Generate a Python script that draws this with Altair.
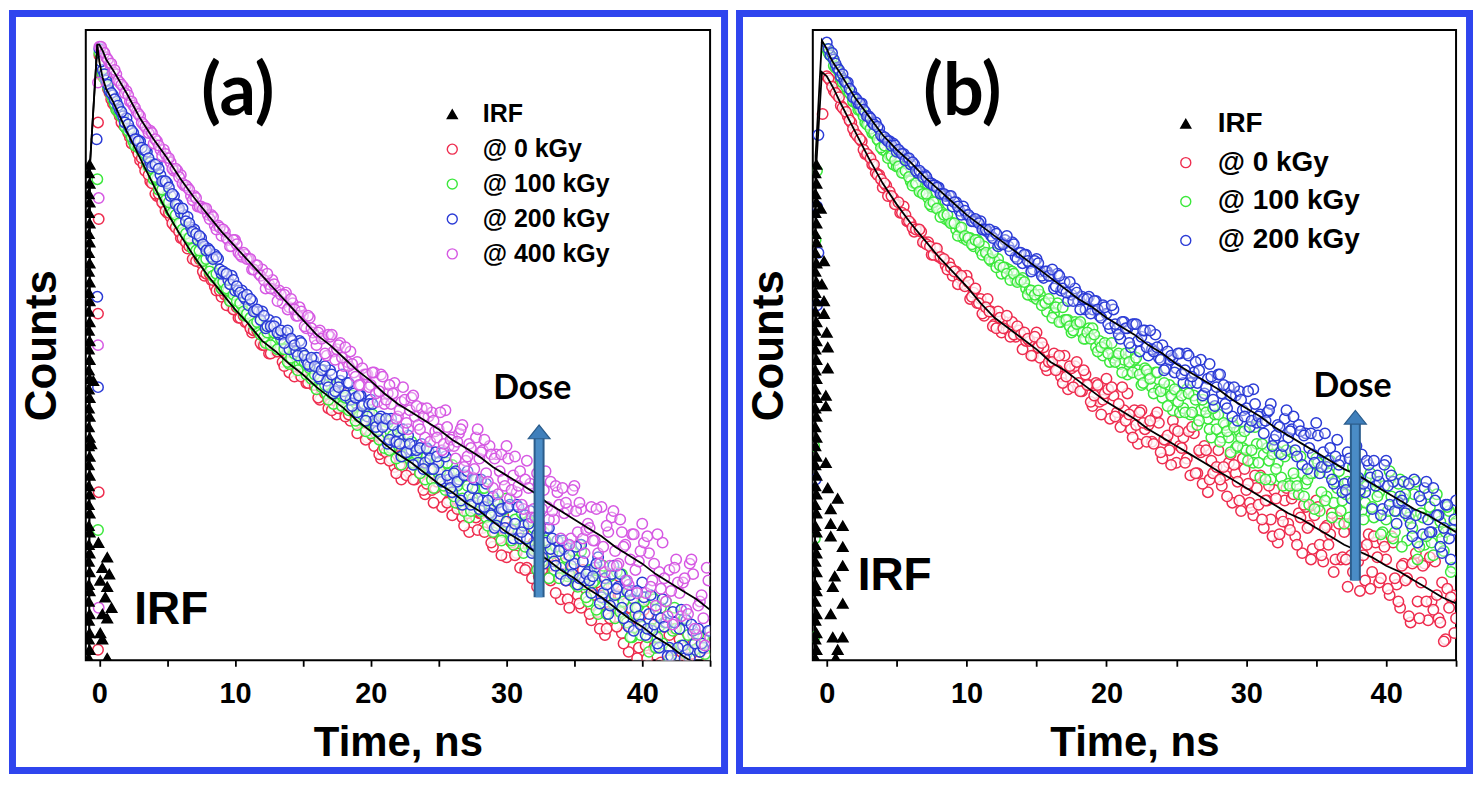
import altair as alt
import pandas as pd

STEP = 0.25  # ns between plotted channels; pass A starts at 0 ns, pass B at 0.125 ns

SERIES_A = ["IRF", "@ 0 kGy", "@ 100 kGy", "@ 200 kGy", "@ 400 kGy"]
SERIES_B = ["IRF", "@ 0 kGy", "@ 100 kGy", "@ 200 kGy"]
STROKES = {"IRF": "#000000", "@ 0 kGy": "#ee2d4f", "@ 100 kGy": "#3be83b",
           "@ 200 kGy": "#2b3bd6", "@ 400 kGy": "#d659e3"}

# ================= panel (a): log10(counts) =================
a_0 = [3.88,3.78,3.75,3.70, 3.65,3.62,3.59,3.55, 3.53,3.49,3.46,3.43, 3.38,3.36,3.35,3.28,
       3.27,3.21,3.20,3.17, 3.13,3.11,3.07,3.07, 3.01,3.00,2.96,2.97, 2.91,2.90,2.89,2.83,
       2.85,2.81,2.78,2.79, 2.73,2.74,2.73,2.68, 2.67,2.63,2.67,2.61, 2.60,2.56,2.57,2.56,
       2.50,2.52,2.46,2.51, 2.47,2.48,2.42,2.47, 2.37,2.43,2.39,2.36, 2.41,2.32,2.34,2.31,
       2.33,2.24,2.34,2.27, 2.22,2.28,2.17,2.23, 2.19,2.24,2.14,2.20, 2.08,2.13,2.13,2.06,
       2.14,2.02,2.07,1.96, 2.01,2.04,1.96,1.92, 2.02,1.86,1.96,1.98, 1.90,1.86,1.93,1.89,
       1.79,1.90,1.81,1.82, 1.91,1.73,1.83,1.76, 1.69,1.77,1.84,1.68, 1.75,1.61,1.77,1.68,
       1.70,1.63,1.73,1.70, 1.54,1.62,1.58,1.69, 1.49,1.57,1.60,1.51, 1.44,1.62,1.44,1.53,
       1.56,1.35,1.49,1.44, 1.53,1.38,1.41,1.47, 1.29,1.42,1.29,1.48, 1.37,1.31,1.25,1.37,
       1.42,1.19,1.31,1.23, 1.35,1.12,1.23,1.30, 1.20,1.31,1.13,1.22, 1.04,1.24,1.16,1.06,
       1.28,1.07,0.98,1.15, 1.11,0.93,1.19,0.99, 1.12,0.86,1.00,1.10, 0.96,1.02,0.87,1.08,
       0.90,1.04,0.85,1.04, 0.84]
a_0b = [3.83,3.77,3.72,3.67, 3.64,3.61,3.56,3.54, 3.51,3.46,3.45,3.41, 3.39,3.33,3.31,3.27,
        3.22,3.22,3.18,3.14, 3.13,3.08,3.06,3.04, 3.01,2.99,2.97,2.91, 2.90,2.91,2.85,2.84,
        2.84,2.81,2.76,2.76, 2.76,2.69,2.71,2.67, 2.68,2.63,2.64,2.61, 2.58,2.57,2.57,2.51,
        2.50,2.51,2.46,2.52, 2.47,2.49,2.40,2.44, 2.42,2.35,2.41,2.35, 2.38,2.32,2.36,2.31,
        2.25,2.29,2.27,2.20, 2.19,2.26,2.20,2.27, 2.16,2.17,2.20,2.16, 2.18,2.14,2.05,2.16,
        2.07,2.08,1.98,2.00, 1.99,1.95,2.02,1.89, 1.93,1.98,1.88,1.99, 1.86,1.96,1.89,1.81,
        1.84,1.89,1.75,1.85, 1.86,1.88,1.75,1.80, 1.86,1.72,1.74,1.64, 1.70,1.75,1.71,1.62,
        1.70,1.61,1.74,1.56, 1.61,1.63,1.50,1.66, 1.63,1.56,1.50,1.63, 1.64,1.43,1.54,1.39,
        1.53,1.40,1.43,1.46, 1.39,1.45,1.32,1.50, 1.46,1.38,1.25,1.44, 1.39,1.27,1.43,1.30,
        1.22,1.31,1.37,1.15, 1.31,1.15,1.20,1.36, 1.16,1.31,1.08,1.20, 1.25,1.15,1.01,1.21,
        1.24,1.01,1.14,1.06, 1.21,0.99,1.16,1.00, 0.98,1.15,0.91,1.04, 0.82,0.99,1.03,0.82,
        1.06,0.96,0.86,1.01]
a_100 = [3.89,3.79,3.76,3.71, 3.67,3.62,3.60,3.58, 3.53,3.51,3.47,3.45, 3.44,3.42,3.37,3.35,
         3.29,3.29,3.25,3.21, 3.20,3.14,3.13,3.09, 3.08,3.04,3.04,3.00, 2.96,2.96,2.91,2.91,
         2.87,2.87,2.82,2.83, 2.77,2.77,2.76,2.71, 2.74,2.68,2.69,2.64, 2.64,2.64,2.59,2.57,
         2.60,2.51,2.56,2.56, 2.51,2.48,2.51,2.48, 2.41,2.47,2.42,2.41, 2.45,2.36,2.39,2.35,
         2.29,2.34,2.38,2.27, 2.31,2.22,2.31,2.24, 2.25,2.20,2.26,2.24, 2.12,2.17,2.14,2.20,
         2.08,2.13,2.14,2.07, 2.01,2.13,2.01,2.06, 2.07,1.93,2.02,1.98, 2.04,1.93,1.95,1.99,
         1.86,1.95,1.86,1.97, 1.89,1.85,1.81,1.89, 1.93,1.75,1.84,1.77, 1.86,1.68,1.77,1.82,
         1.74,1.82,1.68,1.74, 1.61,1.76,1.69,1.61, 1.77,1.61,1.55,1.67, 1.64,1.51,1.68,1.53,
         1.63,1.43,1.54,1.61, 1.51,1.55,1.43,1.57, 1.44,1.54,1.40,1.54, 1.48,1.35,1.52,1.36,
         1.28,1.43,1.38,1.22, 1.43,1.29,1.34,1.41, 1.20,1.27,1.41,1.19, 1.32,1.11,1.22,1.26,
         1.16,1.30,1.04,1.30, 1.06,1.16,1.08,1.28, 1.00,1.14,1.15,0.91, 1.19,1.03,0.97,1.12,
         0.88,1.06,1.11,0.94, 0.97]
a_100b = [3.85,3.77,3.73,3.69, 3.65,3.62,3.59,3.54, 3.52,3.49,3.45,3.44, 3.42,3.41,3.35,3.34,
          3.30,3.24,3.24,3.19, 3.18,3.13,3.12,3.08, 3.05,3.03,3.01,2.96, 2.95,2.95,2.90,2.91,
          2.85,2.83,2.84,2.80, 2.80,2.77,2.71,2.74, 2.71,2.70,2.66,2.65, 2.63,2.60,2.61,2.55,
          2.54,2.56,2.50,2.56, 2.48,2.53,2.48,2.42, 2.44,2.46,2.38,2.43, 2.42,2.42,2.34,2.36,
          2.39,2.30,2.31,2.24, 2.27,2.30,2.27,2.21, 2.25,2.19,2.26,2.14, 2.16,2.17,2.09,2.18,
          2.17,2.11,2.05,2.14, 2.14,2.00,2.07,1.96, 2.06,1.97,1.98,1.99, 1.94,1.98,1.89,2.01,
          1.97,1.91,1.82,1.94, 1.90,1.83,1.94,1.84, 1.78,1.83,1.88,1.71, 1.83,1.71,1.75,1.86,
          1.71,1.82,1.64,1.73, 1.76,1.68,1.57,1.72, 1.73,1.57,1.67,1.61, 1.70,1.54,1.66,1.54,
          1.53,1.65,1.47,1.57, 1.39,1.51,1.54,1.39, 1.56,1.49,1.41,1.52, 1.36,1.55,1.39,1.30,
          1.43,1.37,1.24,1.43, 1.45,1.22,1.40,1.27, 1.42,1.23,1.28,1.18, 1.11,1.29,1.25,1.12,
          1.28,1.11,1.15,1.29, 1.11,1.25,1.18,0.98, 1.05,1.25,0.95,1.07, 1.20,1.12,0.93,1.05,
          1.12,0.84,1.03,0.89]
a_200 = [3.91,3.81,3.76,3.71, 3.69,3.66,3.62,3.59, 3.58,3.53,3.51,3.48, 3.47,3.43,3.42,3.37,
         3.36,3.36,3.31,3.28, 3.27,3.21,3.21,3.17, 3.13,3.12,3.11,3.06, 3.05,3.00,3.01,2.97,
         2.96,2.92,2.93,2.91, 2.84,2.84,2.81,2.83, 2.76,2.76,2.76,2.72, 2.69,2.71,2.66,2.66,
         2.66,2.58,2.62,2.59, 2.61,2.55,2.55,2.56, 2.48,2.52,2.47,2.52, 2.46,2.43,2.40,2.43,
         2.44,2.34,2.38,2.33, 2.38,2.27,2.32,2.33, 2.28,2.32,2.24,2.27, 2.18,2.26,2.22,2.16,
         2.24,2.14,2.09,2.16, 2.12,2.03,2.15,2.04, 2.09,1.97,2.03,2.07, 2.00,2.02,1.94,2.03,
         1.94,2.00,1.91,1.99, 1.94,1.85,1.97,1.86, 1.80,1.90,1.86,1.74, 1.88,1.78,1.82,1.86,
         1.72,1.76,1.84,1.70, 1.78,1.64,1.71,1.72, 1.66,1.74,1.58,1.74, 1.58,1.64,1.58,1.71,
         1.52,1.60,1.62,1.46, 1.63,1.53,1.47,1.57, 1.41,1.53,1.55,1.45, 1.46,1.36,1.55,1.38,
         1.42,1.32,1.44,1.49, 1.30,1.39,1.22,1.41, 1.31,1.35,1.25,1.38, 1.16,1.33,1.25,1.21,
         1.37,1.12,1.22,1.14, 1.24,1.06,1.29,1.18, 1.06,1.23,0.97,1.15, 1.07,1.19,1.01,1.14,
         0.92,1.04,1.06,0.91, 1.14]
a_200b = [3.85,3.79,3.74,3.70, 3.67,3.64,3.61,3.56, 3.55,3.52,3.48,3.47, 3.44,3.43,3.39,3.35,
          3.36,3.34,3.28,3.28, 3.25,3.22,3.17,3.15, 3.15,3.09,3.08,3.04, 3.03,3.02,2.98,2.95,
          2.95,2.91,2.92,2.86, 2.85,2.84,2.79,2.81, 2.78,2.75,2.73,2.74, 2.72,2.66,2.67,2.62,
          2.64,2.59,2.59,2.59, 2.56,2.57,2.51,2.57, 2.53,2.50,2.45,2.51, 2.45,2.41,2.44,2.40,
          2.35,2.38,2.40,2.30, 2.36,2.28,2.30,2.36, 2.26,2.32,2.21,2.25, 2.26,2.21,2.14,2.22,
          2.22,2.11,2.15,2.11, 2.15,2.05,2.12,2.04, 2.03,2.10,1.99,2.03, 1.93,2.00,2.01,1.91,
          2.01,1.96,1.91,1.97, 1.86,1.99,1.88,1.82, 1.89,1.85,1.76,1.88, 1.90,1.74,1.86,1.77,
          1.86,1.73,1.76,1.69, 1.63,1.75,1.72,1.63, 1.73,1.62,1.65,1.73, 1.61,1.69,1.65,1.51,
          1.55,1.69,1.49,1.56, 1.63,1.58,1.45,1.52, 1.57,1.38,1.50,1.41, 1.54,1.39,1.47,1.41,
          1.38,1.40,1.46,1.27, 1.32,1.36,1.26,1.45, 1.34,1.41,1.20,1.33, 1.31,1.14,1.33,1.17,
          1.30,1.15,1.31,1.17, 1.08,1.20,1.16,1.02, 1.02,1.18,1.06,1.24, 1.01,1.05,1.17,1.08,
          1.15,1.08,0.88,1.14]
a_400 = [3.92,3.90,3.87,3.84, 3.80,3.79,3.75,3.73, 3.71,3.66,3.64,3.61, 3.59,3.55,3.53,3.52,
         3.46,3.47,3.43,3.43, 3.39,3.37,3.33,3.33, 3.31,3.26,3.25,3.21, 3.21,3.16,3.16,3.15,
         3.12,3.12,3.07,3.07, 3.02,3.04,3.00,2.97, 3.00,2.94,2.92,2.93, 2.91,2.86,2.88,2.84,
         2.86,2.77,2.79,2.81, 2.76,2.76,2.70,2.75, 2.68,2.70,2.64,2.68, 2.64,2.58,2.63,2.56,
         2.50,2.57,2.54,2.45, 2.54,2.47,2.48,2.51, 2.40,2.42,2.47,2.37, 2.42,2.31,2.36,2.36,
         2.31,2.37,2.23,2.36, 2.22,2.27,2.22,2.32, 2.16,2.23,2.24,2.10, 2.25,2.16,2.12,2.20,
         2.06,2.16,2.18,2.09, 2.10,2.00,2.19,2.02, 2.06,1.96,2.08,2.12, 1.95,2.03,1.87,2.06,
         1.96,2.00,1.89,2.02, 1.82,1.98,1.90,1.86, 2.02,1.77,1.88,1.80, 1.90,1.72,1.95,1.84,
         1.72,1.89,1.63,1.81, 1.73,1.85,1.67,1.80, 1.58,1.70,1.72,1.58, 1.83,1.61,1.72,1.51,
         1.65,1.73,1.57,1.51, 1.73,1.42,1.61,1.68, 1.52,1.46,1.61,1.55, 1.36,1.60,1.43,1.47,
         1.65,1.32,1.51,1.38, 1.26,1.42,1.56,1.28, 1.43,1.17,1.48,1.32, 1.37,1.24,1.46,1.41,
         1.12,1.28,1.20,1.44, 1.11]
a_400b = [3.92,3.89,3.86,3.84, 3.81,3.76,3.74,3.70, 3.69,3.66,3.63,3.60, 3.56,3.54,3.51,3.51,
          3.48,3.45,3.40,3.41, 3.39,3.34,3.34,3.30, 3.27,3.26,3.24,3.19, 3.20,3.16,3.15,3.15,
          3.10,3.11,3.05,3.06, 3.05,3.01,2.97,3.00, 2.98,2.93,2.94,2.91, 2.91,2.86,2.88,2.83,
          2.81,2.84,2.77,2.79, 2.71,2.74,2.74,2.67, 2.72,2.67,2.64,2.66, 2.59,2.64,2.58,2.53,
          2.56,2.53,2.46,2.55, 2.55,2.43,2.50,2.44, 2.49,2.40,2.41,2.35, 2.31,2.39,2.36,2.30,
          2.37,2.27,2.28,2.35, 2.24,2.31,2.27,2.15, 2.19,2.30,2.13,2.19, 2.26,2.21,2.10,2.16,
          2.20,2.04,2.14,2.06, 2.18,2.03,2.11,2.05, 2.02,2.04,2.10,1.92, 1.97,2.01,1.91,2.10,
          1.99,2.05,1.85,1.98, 1.96,1.79,1.98,1.83, 1.96,1.81,1.97,1.83, 1.74,1.86,1.82,1.68,
          1.68,1.84,1.72,1.90, 1.67,1.71,1.83,1.74, 1.82,1.75,1.55,1.81, 1.71,1.75,1.58,1.62,
          1.63,1.57,1.72,1.46, 1.54,1.64,1.45,1.71, 1.45,1.67,1.54,1.38, 1.48,1.60,1.32,1.52,
          1.56,1.59,1.35,1.46, 1.60,1.34,1.39,1.21, 1.33,1.44,1.37,1.21, 1.39,1.22,1.48,1.15,
          1.26,1.31,1.07,1.38]
a_rise = {"@ 0 kGy": ([-0.1, -0.05, -0.1, -0.05, -0.1], [3.56, 3.10, 2.65, 1.80, 1.05]),
          "@ 100 kGy": ([-0.15, -0.1], [3.29, 1.62]),
          "@ 200 kGy": ([-0.2, -0.15, -0.1], [3.48, 2.73, 2.30]),
          "@ 400 kGy": ([-0.1, -0.05, -0.1, -0.05], [3.75, 3.20, 2.50, 1.25])}
IRF_COLUMN_V = [1.01,1.05,1.10,1.13,1.19,1.22,1.28,1.33,1.36,1.42,1.47,1.51,1.55,1.61,1.64,1.70,
                1.74,1.79,1.83,1.88,1.93,1.97,2.02,2.06,2.11,2.16,2.20,2.25,2.29,2.34,2.38,2.43,
                2.48,2.52,2.57,2.61,2.66,2.71,2.75,2.80,2.85,2.89,2.94,2.99,3.03,3.08,3.13,3.18,
                3.22,3.27,3.32,3.36]
a_irf_t = [-0.78, -0.72] * 26 + [-0.6, -0.45, -0.07, 0.58, 0.22, 0.73, 0.07, 0.58,
                                 0.44, 0.22, 0.58, 0.07, 0.22, 0.58, 0.9]
a_irf_v = IRF_COLUMN_V + [2.03, 2.33, 1.56, 1.49, 1.44, 1.41, 1.38, 1.35, 1.30, 1.22, 1.20,
                          1.13, 1.10, 1.01, 1.25]
a_fit_t = [-0.75, -0.7, -0.15, 0, 0.25, 0.5] + list(range(1, 46))
a_fit_0 = [0.9, 3.35, 3.93, 3.85, 3.77, 3.72,
           3.66,3.52,3.39,3.26,3.13,3.02,2.92,2.83,2.75,2.67,2.60,2.52,2.47,2.41,2.36,2.30,
           2.25,2.20,2.14,2.09,2.03,1.98,1.94,1.89,1.84,1.80,1.75,1.71,1.66,1.61,1.57,1.52,
           1.48,1.43,1.39,1.34,1.30,1.25,1.20,1.16,1.11,1.07,1.02,0.98,0.93]
a_fit_400 = [0.9, 3.35, 3.93, 3.93, 3.90, 3.86,
             3.81,3.70,3.58,3.48,3.39,3.29,3.20,3.12,3.04,2.97,2.90,2.83,2.76,2.69,2.62,2.55,
             2.50,2.44,2.38,2.33,2.27,2.22,2.18,2.14,2.10,2.05,2.01,1.97,1.92,1.88,1.84,1.80,
             1.75,1.71,1.67,1.63,1.59,1.54,1.50,1.46,1.41,1.37,1.33,1.29,1.24]

# ================= panel (b) =================
b_0 = [3.78,3.76,3.71,3.69, 3.64,3.62,3.59,3.56, 3.51,3.49,3.47,3.41, 3.40,3.36,3.32,3.31,
       3.25,3.26,3.23,3.20, 3.17,3.13,3.16,3.09, 3.08,3.04,3.05,3.04, 2.99,2.99,2.93,2.96,
       2.92,2.91,2.88,2.89, 2.83,2.85,2.82,2.79, 2.83,2.72,2.75,2.70, 2.72,2.64,2.72,2.66,
       2.60,2.66,2.56,2.61, 2.57,2.61,2.54,2.57, 2.48,2.52,2.52,2.45, 2.56,2.44,2.49,2.38,
       2.43,2.46,2.38,2.35, 2.45,2.29,2.39,2.40, 2.32,2.28,2.36,2.31, 2.21,2.32,2.23,2.24,
       2.34,2.15,2.26,2.18, 2.11,2.19,2.27,2.10, 2.19,2.03,2.19,2.10, 2.12,2.04,2.16,2.13,
       1.96,2.05,2.00,2.14, 1.94,2.02,2.06,1.96, 1.88,2.08,1.89,1.99, 2.02,1.80,1.95,1.90,
       2.00,1.83,1.88,1.94, 1.75,1.89,1.76,1.96, 1.81,1.75,1.69,1.82, 1.88,1.63,1.76,1.67,
       1.81,1.56,1.69,1.76, 1.65,1.77,1.59,1.70, 1.51,1.73,1.64,1.53, 1.76,1.55,1.47,1.64,
       1.60,1.42,1.68,1.48, 1.61,1.35,1.50,1.61, 1.47,1.53,1.38,1.60, 1.42,1.56,1.37,1.57,
       1.48,1.31,1.56,1.36, 1.25,1.46,1.39,1.18, 1.47,1.28,1.37,1.46, 1.19,1.28,1.47,1.20,
       1.37,1.10,1.25,1.31, 1.20]
b_0b = [3.77,3.73,3.70,3.68, 3.63,3.61,3.57,3.53, 3.50,3.48,3.43,3.41, 3.39,3.36,3.31,3.29,
        3.27,3.21,3.21,3.17, 3.18,3.13,3.12,3.09, 3.06,3.05,3.05,2.99, 2.98,2.97,2.93,2.96,
        2.92,2.91,2.86,2.87, 2.85,2.79,2.83,2.78, 2.80,2.73,2.77,2.70, 2.65,2.68,2.66,2.59,
        2.58,2.63,2.58,2.64, 2.54,2.55,2.59,2.55, 2.56,2.53,2.45,2.54, 2.49,2.51,2.40,2.42,
        2.42,2.38,2.45,2.32, 2.35,2.40,2.30,2.42, 2.28,2.38,2.31,2.23, 2.26,2.31,2.17,2.27,
        2.29,2.30,2.16,2.22, 2.30,2.14,2.17,2.06, 2.12,2.18,2.13,2.04, 2.14,2.03,2.18,1.99,
        2.05,2.07,1.93,2.10, 2.09,2.01,1.94,2.09, 2.11,1.89,2.00,1.84, 2.00,1.86,1.89,1.92,
        1.86,1.92,1.78,1.98, 1.93,1.85,1.71,1.91, 1.84,1.72,1.88,1.74, 1.67,1.76,1.83,1.59,
        1.77,1.60,1.66,1.82, 1.62,1.79,1.55,1.68, 1.74,1.63,1.48,1.69, 1.73,1.50,1.63,1.55,
        1.70,1.48,1.65,1.49, 1.48,1.65,1.42,1.55, 1.33,1.50,1.55,1.34, 1.59,1.49,1.39,1.54,
        1.34,1.59,1.39,1.28, 1.45,1.38,1.21,1.46, 1.51,1.20,1.45,1.28, 1.49,1.24,1.31,1.18,
        1.09,1.34,1.30,1.13]
b_100 = [3.91,3.88,3.83,3.82, 3.77,3.75,3.71,3.69, 3.66,3.62,3.61,3.56, 3.55,3.51,3.50,3.47,
         3.43,3.42,3.40,3.36, 3.35,3.35,3.32,3.33, 3.28,3.27,3.26,3.23, 3.22,3.20,3.16,3.18,
         3.15,3.13,3.10,3.09, 3.08,3.05,3.06,3.01, 3.00,3.01,2.97,3.00, 2.95,2.97,2.93,2.90,
         2.90,2.91,2.84,2.87, 2.86,2.85,2.81,2.81, 2.82,2.77,2.76,2.73, 2.72,2.74,2.71,2.66,
         2.70,2.65,2.70,2.61, 2.62,2.62,2.56,2.61, 2.60,2.56,2.53,2.58, 2.58,2.49,2.52,2.45,
         2.50,2.42,2.44,2.45, 2.41,2.43,2.36,2.46, 2.43,2.38,2.31,2.39, 2.36,2.30,2.37,2.29,
         2.25,2.29,2.31,2.19, 2.28,2.18,2.20,2.29, 2.17,2.26,2.12,2.19, 2.21,2.15,2.06,2.17,
         2.17,2.06,2.12,2.06, 2.13,2.01,2.09,2.01, 2.00,2.11,1.94,2.03, 1.87,1.98,2.01,1.86,
         2.01,1.94,1.87,1.97, 1.84,1.99,1.86,1.79, 1.89,1.84,1.74,1.89, 1.96,1.71,1.92,1.78,
         1.95,1.75,1.82,1.71, 1.65,1.85,1.81,1.68, 1.86,1.71,1.75,1.87, 1.73,1.85,1.80,1.61,
         1.67,1.90,1.58,1.71, 1.86,1.77,1.57,1.70, 1.79,1.48,1.70,1.55, 1.79,1.56,1.69,1.61,
         1.58,1.61,1.71,1.44, 1.66]
b_100b = [3.89,3.87,3.82,3.80, 3.75,3.73,3.70,3.66, 3.65,3.62,3.59,3.55, 3.53,3.51,3.48,3.44,
          3.45,3.39,3.40,3.38, 3.35,3.32,3.33,3.30, 3.26,3.27,3.23,3.22, 3.22,3.17,3.18,3.15,
          3.11,3.12,3.12,3.08, 3.08,3.02,3.06,3.02, 3.01,2.98,3.00,2.99, 2.93,2.94,2.91,2.94,
          2.87,2.88,2.87,2.84, 2.81,2.84,2.80,2.81, 2.80,2.74,2.76,2.74, 2.76,2.69,2.70,2.72,
          2.63,2.68,2.61,2.68, 2.62,2.59,2.57,2.60, 2.61,2.53,2.56,2.53, 2.55,2.47,2.49,2.51,
          2.46,2.51,2.42,2.46, 2.37,2.46,2.42,2.37, 2.44,2.36,2.32,2.38, 2.34,2.27,2.37,2.28,
          2.32,2.21,2.26,2.29, 2.23,2.26,2.18,2.27, 2.18,2.24,2.14,2.24, 2.18,2.10,2.20,2.10,
          2.04,2.13,2.09,1.99, 2.11,2.02,2.06,2.09, 1.95,2.00,2.11,1.94, 2.03,1.86,1.95,1.98,
          1.91,1.99,1.83,2.00, 1.83,1.89,1.83,1.97, 1.78,1.86,1.89,1.72, 1.94,1.80,1.76,1.89,
          1.68,1.85,1.90,1.76, 1.79,1.68,1.92,1.73, 1.80,1.67,1.83,1.89, 1.68,1.78,1.60,1.83,
          1.71,1.78,1.61,1.84, 1.54,1.79,1.68,1.63, 1.85,1.54,1.68,1.59, 1.73,1.50,1.79,1.66,
          1.52,1.73,1.42,1.65]
b_200 = [3.94,3.88,3.86,3.82, 3.78,3.76,3.75,3.71, 3.68,3.65,3.65,3.61, 3.59,3.56,3.56,3.53,
         3.49,3.48,3.47,3.46, 3.42,3.42,3.41,3.39, 3.36,3.36,3.32,3.32, 3.31,3.28,3.27,3.26,
         3.25,3.22,3.21,3.21, 3.16,3.18,3.14,3.16, 3.12,3.11,3.09,3.09, 3.09,3.05,3.04,3.02,
         3.04,2.97,2.99,3.00, 2.97,2.99,2.92,2.94, 2.89,2.93,2.89,2.86, 2.91,2.85,2.82,2.85,
         2.83,2.77,2.84,2.76, 2.80,2.71,2.74,2.77, 2.71,2.73,2.67,2.73, 2.67,2.71,2.64,2.69,
         2.65,2.58,2.67,2.58, 2.53,2.61,2.58,2.49, 2.60,2.52,2.54,2.57, 2.45,2.48,2.55,2.44,
         2.50,2.39,2.43,2.44, 2.39,2.46,2.32,2.46, 2.32,2.37,2.32,2.43, 2.27,2.34,2.35,2.21,
         2.36,2.27,2.22,2.30, 2.16,2.26,2.28,2.19, 2.20,2.11,2.29,2.13, 2.17,2.08,2.18,2.22,
         2.05,2.12,1.98,2.15, 2.06,2.10,2.00,2.12, 1.93,2.08,2.01,1.98, 2.13,1.89,1.99,1.92,
         2.01,1.84,2.05,1.95, 1.84,1.99,1.77,1.94, 1.87,1.98,1.80,1.93, 1.72,1.83,1.85,1.72,
         1.95,1.74,1.85,1.65, 1.78,1.85,1.71,1.65, 1.86,1.56,1.76,1.82, 1.67,1.61,1.76,1.69,
         1.51,1.74,1.58,1.62, 1.76]
b_200b = [3.91,3.89,3.84,3.81, 3.79,3.75,3.72,3.68, 3.67,3.65,3.62,3.59, 3.58,3.55,3.54,3.50,
          3.49,3.47,3.45,3.45, 3.43,3.41,3.38,3.39, 3.37,3.33,3.33,3.30, 3.30,3.27,3.26,3.25,
          3.22,3.22,3.19,3.21, 3.18,3.16,3.12,3.14, 3.12,3.09,3.10,3.08, 3.05,3.05,3.05,3.01,
          3.03,2.98,2.98,3.02, 2.95,2.98,2.91,2.94, 2.93,2.90,2.85,2.90, 2.89,2.83,2.85,2.83,
          2.86,2.78,2.83,2.77, 2.75,2.80,2.71,2.75, 2.67,2.72,2.72,2.65, 2.71,2.67,2.63,2.68,
          2.60,2.69,2.60,2.55, 2.61,2.58,2.51,2.60, 2.60,2.47,2.57,2.49, 2.57,2.47,2.49,2.43,
          2.38,2.47,2.45,2.37, 2.46,2.36,2.38,2.45, 2.35,2.42,2.38,2.26, 2.30,2.41,2.24,2.30,
          2.36,2.31,2.20,2.26, 2.30,2.14,2.24,2.16, 2.28,2.14,2.22,2.16, 2.13,2.14,2.19,2.02,
          2.07,2.11,2.02,2.19, 2.09,2.16,1.97,2.09, 2.07,1.91,2.08,1.94, 2.07,1.92,2.08,1.95,
          1.86,1.97,1.93,1.80, 1.81,1.96,1.85,2.02, 1.81,1.84,1.95,1.87, 1.95,1.88,1.69,1.93,
          1.83,1.88,1.71,1.75, 1.76,1.70,1.84,1.59, 1.69,1.78,1.60,1.85, 1.61,1.82,1.69,1.54,
          1.63,1.74,1.48,1.67]
b_rise = {"@ 0 kGy": ([-0.3], [3.60]),
          "@ 100 kGy": ([-0.7, -0.8, -0.9, -0.85, -0.9], [3.33, 3.00, 2.02, 1.58, 1.11]),
          "@ 200 kGy": ([-0.6, -0.7, -0.6, -0.7, -0.8], [3.50, 3.16, 2.94, 2.69, 1.86])}
b_irf_t = [-0.82, -0.74] * 26 + [-0.43, -0.2, -0.35, -0.2, -0.2, 0, 0.07, 0.07, -0.07, -0.07,
                                 -0.07, 0.07, 0.78, 0.28, 0.28, 1.14, 0.28, 1.14, 1.14, 0.57,
                                 0.43, 1.14, 0.28, 0.43, 1.14, 0.78, 0.64]
b_irf_v = IRF_COLUMN_V + [3.15, 2.90, 2.79, 2.71, 2.65, 2.56, 2.49, 2.39, 2.26, 2.21, 1.94,
                          1.82, 1.77, 1.72, 1.65, 1.64, 1.59, 1.54, 1.45, 1.40, 1.35, 1.27,
                          1.22, 1.11, 1.11, 1.05, 1.01]
b_fit_t = [-0.85, -0.8, -0.35, 0, 0.25, 0.5] + list(range(1, 46))
b_fit_0 = [0.9, 3.3, 3.80, 3.78, 3.75, 3.72,
           3.65,3.52,3.39,3.27,3.17,3.08,3.00,2.92,2.85,2.78,2.70,2.63,2.58,2.53,2.48,2.42,
           2.38,2.33,2.28,2.23,2.19,2.15,2.10,2.06,2.02,1.98,1.94,1.90,1.86,1.82,1.78,1.74,
           1.70,1.67,1.63,1.59,1.55,1.52,1.49,1.45,1.42,1.38,1.34,1.30,1.27]
b_fit_200 = [0.9, 3.4, 3.95, 3.91, 3.87, 3.84,
             3.79,3.68,3.59,3.50,3.43,3.37,3.30,3.24,3.18,3.12,3.07,3.02,2.97,2.92,2.87,2.82,
             2.77,2.72,2.68,2.63,2.59,2.55,2.50,2.46,2.41,2.37,2.33,2.29,2.24,2.20,2.16,2.11,
             2.07,2.03,1.99,1.95,1.91,1.88,1.84,1.80,1.76,1.72,1.69,1.65,1.61]

# annotations (label, t, value) and arrows (t, shaft bottom, shaft top, head centre)
a_title = [("(a)", 10.2, 3.70)]
a_irf_lbl = [("IRF", 5.3, 1.24)]
a_dose = [("Dose", 31.9, 2.29)]
a_arrow = [(32.4, 1.30, 2.06, 2.07)]
b_title = [("(b)", 9.7, 3.70)]
b_irf_lbl = [("IRF", 4.85, 1.40)]
b_dose = [("Dose", 37.6, 2.30)]
b_arrow = [(37.8, 1.38, 2.13, 2.14)]

FRAME_BLUE = "#2f45ee"
ARIAL = "Liberation Sans, Arial, sans-serif"
CAL = "Lato, Carlito, sans-serif"


def points_frame(domain, passes_a, passes_b, rise, irf_t, irf_v):
    rows = []
    for name, arr_a, arr_b in zip(domain[1:], passes_a, passes_b):
        rows += [(name, i * STEP, v) for i, v in enumerate(arr_a)]
        rows += [(name, i * STEP + STEP / 2, v) for i, v in enumerate(arr_b)]
        rows += [(name, t, v) for t, v in zip(*rise[name])]
    rows += [("IRF", t, v) for t, v in zip(irf_t, irf_v)]
    return pd.DataFrame(rows, columns=["series", "t", "v"])


def fits_frame(fit_t, fits):
    rows = []
    for name, vals in fits.items():
        rows += [(name, t, v) for t, v in zip(fit_t, vals)]
    return pd.DataFrame(rows, columns=["fit", "t", "v"])


def panel(domain, passes_a, passes_b, rise, irf_t, irf_v, fit_t, fits, title, irf_lbl, dose,
          arrow, width, legend_x, legend_y, legend_fs, legend_rowpad, legend_off, frame_right):
    height = 632
    xs = alt.Scale(domain=[-1, 45], nice=False, zero=False)
    ys = alt.Scale(domain=[1, 4], nice=False, zero=False)
    xaxis = alt.Axis(values=list(range(0, 46, 5)),
                     labelExpr="datum.value % 10 === 0 && datum.value < 45 ? datum.label : ''",
                     labelOverlap=False, grid=False, domain=False, tickSize=6, tickWidth=1.8,
                     tickColor="black", labelFont=ARIAL, labelFontSize=29, labelFontWeight="bold",
                     labelColor="black", labelPadding=13, title="Time, ns", titleFont=ARIAL,
                     titleFontSize=42, titleFontWeight="bold", titleColor="black", titlePadding=14)
    yaxis = alt.Axis(labels=False, ticks=False, domain=False, grid=False, title="Counts",
                     titleFont=ARIAL, titleFontSize=44, titleFontWeight="bold",
                     titleColor="black", titlePadding=21)
    X = alt.X("t:Q", scale=xs, axis=xaxis)
    Y = alt.Y("v:Q", scale=ys, axis=yaxis)

    leg = dict(orient="none", legendX=legend_x, legendY=legend_y, title=None,
               labelFont=ARIAL, labelFontSize=legend_fs, labelFontWeight="bold",
               labelColor="black", symbolSize=100, symbolStrokeWidth=1.4,
               rowPadding=legend_rowpad, labelOffset=legend_off)
    strokes = [STROKES[s] for s in domain]
    fills = ["#000000"] + ["#ffffff"] * (len(domain) - 1)
    shapes = ["triangle-up"] + ["circle"] * (len(domain) - 1)
    fill_op = [1.0] + [0.35] * (len(domain) - 1)

    pts = alt.Chart(points_frame(domain, passes_a, passes_b, rise, irf_t, irf_v)).mark_point(
        clip=True, filled=True, opacity=1, strokeWidth=1.5, size=110).encode(
        x=X, y=Y,
        stroke=alt.Stroke("series:N", scale=alt.Scale(domain=domain, range=strokes),
                          legend=alt.Legend(**leg)),
        fill=alt.Fill("series:N", scale=alt.Scale(domain=domain, range=fills),
                      legend=alt.Legend(**leg)),
        shape=alt.Shape("series:N", scale=alt.Scale(domain=domain, range=shapes),
                        legend=alt.Legend(**leg)),
        fillOpacity=alt.FillOpacity("series:N", scale=alt.Scale(domain=domain, range=fill_op),
                                    legend=None),
    )
    lines = alt.Chart(fits_frame(fit_t, fits)).mark_line(
        color="black", strokeWidth=1.8, clip=True).encode(x=X, y=Y, detail="fit:N")

    adf = pd.DataFrame(arrow, columns=["t", "v0", "v1", "vh"])
    AX = alt.X("t:Q", scale=xs, axis=xaxis)
    shaft_o = alt.Chart(adf).mark_rule(color="#2c5d8c", strokeWidth=11).encode(
        x=AX, y=alt.Y("v0:Q", scale=ys, axis=yaxis), y2="v1:Q")
    shaft_i = alt.Chart(adf).mark_rule(color="#4a8cc6", strokeWidth=7).encode(
        x=AX, y=alt.Y("v0:Q", scale=ys, axis=yaxis), y2="v1:Q")
    head = alt.Chart(adf).mark_point(shape="M-1,0.3L0,-0.95L1,0.3Z", filled=True, size=484,
                                     fill="#3f7fbb", stroke="#2c5d8c", strokeWidth=1.2,
                                     opacity=1).encode(
        x=AX, y=alt.Y("vh:Q", scale=ys, axis=yaxis))

    def txt(rows, font, size):
        d = pd.DataFrame(rows, columns=["label", "t", "v"])
        return alt.Chart(d).mark_text(font=font, fontSize=size, fontWeight="bold",
                                      color="black", align="center", baseline="middle").encode(
            x=AX, y=alt.Y("v:Q", scale=ys, axis=yaxis), text="label:N")

    frame = alt.Chart(pd.DataFrame({"k": [0]})).mark_rect(
        fillOpacity=0, stroke=FRAME_BLUE, strokeWidth=7, clip=False).encode(
        x=alt.value(-73.5), x2=alt.value(frame_right), y=alt.value(-16.5), y2=alt.value(742.5))

    return alt.layer(frame, pts, lines, shaft_o, shaft_i, head,
                     txt(title, CAL, 72), txt(irf_lbl, ARIAL, 46), txt(dose, CAL, 34)
                     ).properties(width=width, height=height)


left = panel(SERIES_A, [a_0, a_100, a_200, a_400], [a_0b, a_100b, a_200b, a_400b], a_rise,
             a_irf_t, a_irf_v, a_fit_t, {"0": a_fit_0, "400": a_fit_400}, a_title, a_irf_lbl,
             a_dose, a_arrow, width=626, legend_x=355, legend_y=72, legend_fs=25,
             legend_rowpad=9, legend_off=18, frame_right=640.5)
right = panel(SERIES_B, [b_0, b_100, b_200], [b_0b, b_100b, b_200b], b_rise, b_irf_t, b_irf_v,
              b_fit_t, {"0": b_fit_0, "200": b_fit_200}, b_title, b_irf_lbl, b_dose, b_arrow,
              width=645, legend_x=360, legend_y=80, legend_fs=28, legend_rowpad=11,
              legend_off=18, frame_right=658.5)

chart = alt.hconcat(left, right, spacing=6).resolve_scale(
    x="independent", y="independent", stroke="independent", fill="independent",
    shape="independent", fillOpacity="independent").resolve_legend(
    stroke="independent", fill="independent", shape="independent").configure_view(
    stroke="black", strokeWidth=2).properties(padding=0, background="white")

chart.save("out.html", embed_options={"renderer": "svg", "actions": False})
